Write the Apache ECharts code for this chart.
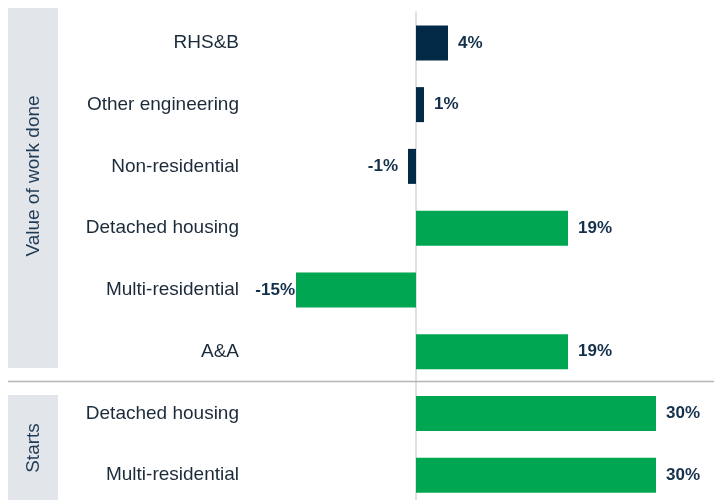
<!DOCTYPE html>
<html>
<head>
<meta charset="utf-8">
<script src="https://cdn.jsdelivr.net/npm/echarts@6/dist/echarts.min.js"></script>
<style>
  html, body { margin: 0; padding: 0; background: #fff; }
  #main { width: 718px; height: 500px; }
</style>
</head>
<body>
<div id="main"></div>
<script>
// categories top to bottom (trailing space keeps the "Starts" rows distinct)
var categories = ['RHS&B', 'Other engineering', 'Non-residential', 'Detached housing',
                  'Multi-residential', 'A&A', 'Detached housing ', 'Multi-residential '];
// growth, %
var values = [4, 1, -1, 19, -15, 19, 30, 30];
var groupLabels = ['Value of work done', 'Starts'];

var navy = '#022a47';
var green = '#00a651';

var myChart = echarts.init(document.getElementById('main'));

var option = {
    animation: false,
    grid: { left: 256, top: 12, width: 440, height: 494, outerBoundsMode: 'none', containLabel: false },
    xAxis: {
        type: 'value',
        min: -20,
        max: 35,
        show: false
    },
    yAxis: {
        type: 'category',
        inverse: true,
        data: categories,
        // move the axis from the grid edge onto the zero line
        offset: -160,
        axisLine: { onZero: false, lineStyle: { color: '#d4d4d4', width: 1.5 } },
        axisTick: { length: 6, lineStyle: { color: '#d8d8d8', width: 1.5 } },
        axisLabel: {
            margin: 177,
            fontFamily: 'Liberation Sans',
            fontSize: 19,
            color: '#1c2b3a',
            formatter: function (v) { return v.trim(); }
        }
    },
    series: [{
        type: 'bar',
        // negative values get their label on the left
        data: values.map(function (v) {
            return v < 0 ? { value: v, label: { position: 'left', distance: v < -5 ? 1 : 10 } } : v;
        }),
        barWidth: 35,
        itemStyle: {
            color: function (p) { return p.dataIndex < 3 ? navy : green; }
        },
        label: {
            show: true,
            position: 'right',
            distance: 10,
            formatter: '{c}%',
            fontFamily: 'Liberation Sans',
            fontWeight: 'bold',
            fontSize: 17,
            color: '#14304b'
        }
    }],
    graphic: [
        { type: 'rect', left: 8, top: 8, shape: { width: 50, height: 360 }, style: { fill: '#e2e6ea' }, z: -1 },
        { type: 'rect', left: 8, top: 395, shape: { width: 50, height: 110 }, style: { fill: '#e2e6ea' }, z: -1 },
        { type: 'line', shape: { x1: 8, y1: 381.5, x2: 714, y2: 381.5 }, style: { stroke: '#b5b5b5', lineWidth: 1.5 }, z: 10 },
        { type: 'text', x: 34, y: 176, rotation: Math.PI / 2,
          style: { text: groupLabels[0], fill: '#1f3a55', font: '19px "Liberation Sans"', align: 'center', verticalAlign: 'middle' } },
        { type: 'text', x: 34, y: 448, rotation: Math.PI / 2,
          style: { text: groupLabels[1], fill: '#1f3a55', font: '19px "Liberation Sans"', align: 'center', verticalAlign: 'middle' } }
    ]
};

myChart.setOption(option);
</script>
</body>
</html>
